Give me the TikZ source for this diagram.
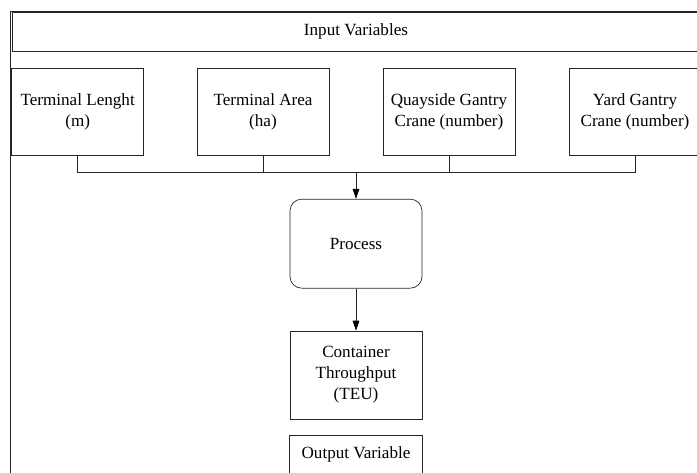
\documentclass[tikz,border=0pt]{standalone}
\usepackage{fontspec}
\setmainfont{Liberation Serif}
\usepackage{tikz}
\usetikzlibrary{arrows.meta}
\usetikzlibrary{positioning, shapes.misc}
\tikzset{
input box/.style = { rectangle, draw = black!85, fill = white, minimum width = 3.96cm, minimum height = 2.61cm, align = center, inner sep = 1pt },
process box/.style = { rectangle, draw = black!85, fill = white, minimum width = 3.96cm, minimum height = 2.67cm, rounded corners = 10pt },
output box/.style = { rectangle, draw = black!85, fill = white, minimum width = 3.96cm, minimum height = 2.64cm, align = center },
}

\begin{document}
\begin{tikzpicture}[line width=0.6pt, font=\fontsize{14.6}{18}\selectfont]
    \useasboundingbox (0,0) rectangle (20.91,-14.16);
    \clip (0,0) rectangle (20.91,-14.16);
    % frame
    \draw[black!85] (0.30,-0.33) rectangle (21.5,-15.0);
    \node[rectangle, draw = black!85, minimum width = 20.64cm, minimum height = 1.17cm] (title) at (10.68,-0.945) {Input Variables};
    % input variables
    \begin{scope}[every node/.style={input box}]
      \node (len) at (2.33,-3.35) {Terminal Lenght\\(m)};
      \node (area) at (7.89,-3.35) {Terminal Area\\(ha)};
      \node (qgc) at (13.47,-3.35) {Quayside Gantry\\Crane (number)};
      \node (ygc) at (19.05,-3.35) {Yard Gantry\\Crane (number)};
    \end{scope}
    \coordinate (bus) at (10.68,-5.16);
    \node[process box] (proc) at (10.68,-7.31) {Process};
    \node[output box] (teu) at (10.68,-11.25) {Container\\Throughput\\(TEU)};
    \node[minimum width = 3.96cm, minimum height = 1.08cm, inner sep = 0pt] (out) at (10.68,-13.62) {Output Variable};
    \draw[black!85] ([yshift=-1cm]out.south west) -- (out.north west) -- (out.north east) -- ([yshift=-1cm]out.south east);
    % connectors
    \begin{scope}[>={Triangle[length=0.3cm, width=0.2cm, black]}, every path/.style={draw=black!85}]
      \draw (len.south) |- (bus);
      \draw (area.south) |- (bus);
      \draw (qgc.south) |- (bus);
      \draw (ygc.south) |- (bus);
      \draw[->] (bus) -- (proc.north);
      \draw[->] (proc.south) -- (teu.north);
    \end{scope}
\end{tikzpicture}
\end{document}
